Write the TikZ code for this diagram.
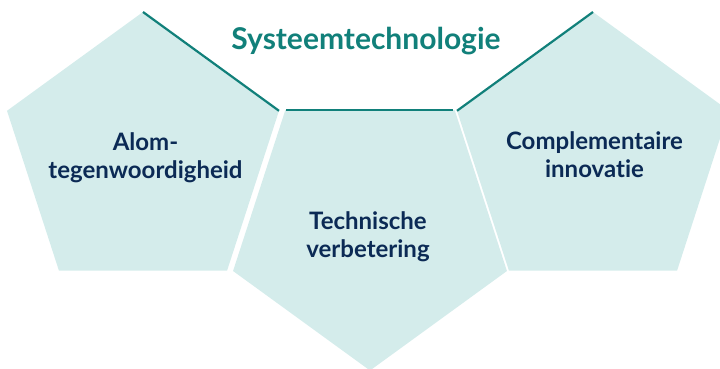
\documentclass[tikz,border=0pt]{standalone}
\usepackage{fontspec}
\setmainfont{Lato}[Ligatures=NoCommon]
\usetikzlibrary{calc}
\definecolor{pentfill}{HTML}{D4ECEB}
\definecolor{tealline}{HTML}{11807A}
\definecolor{navytext}{HTML}{0B2A55}
\tikzset{
    label text/.style={text=navytext, font=\bfseries\fontsize{24}{28}\selectfont, align=center},
    top edge/.style={tealline, line width=2.2pt}
}

\begin{document}
\begin{tikzpicture}[line cap=butt, x=1pt, y=-1pt]

    \useasboundingbox (0,0) rectangle (720,369);
    \foreach \cx/\cy/\r/\rot/\p in {143/155/143/-90/L, 370/226.5/144/90/M, 593/155/143/-90/R} {
        \foreach \k in {0,...,4} {
            \coordinate (\p\k) at ($(\cx,\cy)+(\rot+72*\k:\r)$);
        }
        \fill[pentfill] (\p0) -- (\p1) -- (\p2) -- (\p3) -- (\p4) -- cycle;
    }
    \draw[top edge] (L0) -- (L1);
    \draw[top edge] ($(M2)+(1,0)$) -- ($(M3)+(-2,0)$);
    \draw[top edge] (R4) -- (R0);

    \node[text=tealline, font=\bfseries\fontsize{30}{34}\selectfont] (title) at (366,41) {Systeemtechnologie};
    \node[label text] (alom) at (145.5,157.5) {Alom-\\tegenwoordigheid};
    \node[label text] (techn) at (368,237) {Technische\\verbetering};
    \node[label text] (compl) at (594.5,155) {Complementaire\\innovatie};

\end{tikzpicture}
\end{document}
